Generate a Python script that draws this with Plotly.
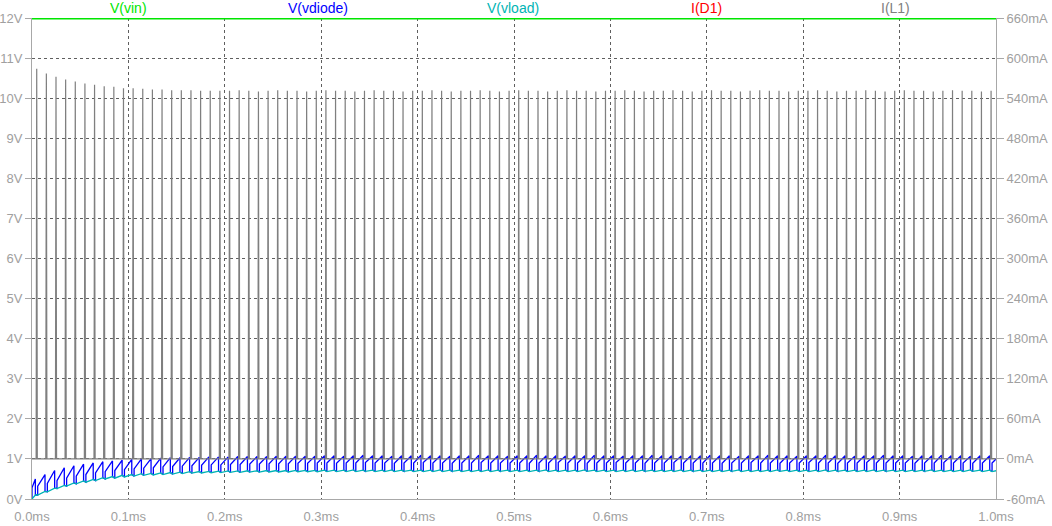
import plotly.graph_objects as go

# ---------------- data ----------------
# time base (ms)
PERIOD_MS = 0.010          # switching period
FIRST_DROP_MS = 0.0035     # first falling edge of V(vdiode)
FLAT_MS = 0.0024           # time V(vdiode) stays at V(vload) after a drop
SPIKE_DELAY_MS = 0.0008    # I(L1) spike start after the V(vdiode) drop
SPIKE_RISE_MS = 0.0006
SPIKE_FALL_MS = 0.0006

VIN_V = 12.0

# I(L1) peak per cycle (mA), 100 cycles
il_peak_mA = [
    584, 577, 572, 568, 565, 562, 560, 558, 557, 555,
    555, 554, 553, 553, 552, 552, 552, 551, 551, 551,
    551, 552, 551, 550, 551, 552, 551, 551, 550, 551,
    552, 551, 551, 550, 551, 552, 551, 551, 550, 551,
    551, 552, 551, 550, 551, 551, 552, 551, 550, 551,
    552, 551, 551, 550, 551, 552, 551, 551, 550, 551,
    551, 552, 551, 550, 551, 551, 552, 551, 550, 551,
    552, 551, 551, 550, 551, 552, 551, 551, 550, 551,
    551, 552, 551, 550, 551, 551, 552, 551, 550, 551,
    552, 551, 551, 550, 551, 552, 551, 551, 550, 551,
]

# V(vload) value at each V(vdiode) falling edge (V), 101 cycles
vload_top = [
    0.10, 0.19, 0.27, 0.34, 0.40, 0.45, 0.49, 0.53, 0.56, 0.59,
    0.61, 0.63, 0.64, 0.65, 0.66, 0.67, 0.68, 0.685, 0.69, 0.695,
    0.70, 0.70, 0.705, 0.705, 0.71, 0.71, 0.71, 0.715, 0.715, 0.715,
    0.72, 0.72, 0.72, 0.725, 0.72, 0.72, 0.72, 0.725, 0.72, 0.72,
    0.72, 0.72, 0.725, 0.72, 0.72, 0.72, 0.72, 0.725, 0.72, 0.72,
    0.72, 0.72, 0.72, 0.725, 0.72, 0.72, 0.72, 0.725, 0.72, 0.72,
    0.72, 0.72, 0.725, 0.72, 0.72, 0.72, 0.72, 0.725, 0.72, 0.72,
    0.72, 0.72, 0.72, 0.725, 0.72, 0.72, 0.72, 0.725, 0.72, 0.72,
    0.72, 0.72, 0.725, 0.72, 0.72, 0.72, 0.72, 0.725, 0.72, 0.72,
    0.72, 0.72, 0.72, 0.725, 0.72, 0.72, 0.72, 0.725, 0.72, 0.72,
    0.72,
]

# V(vload) lowest value in each cycle (V), cycles 1..100
vload_low = [
    0.10, 0.18, 0.26, 0.32, 0.38, 0.42, 0.46, 0.50, 0.52, 0.55,
    0.57, 0.59, 0.60, 0.61, 0.62, 0.635, 0.645, 0.65, 0.655, 0.66,
    0.665, 0.665, 0.67, 0.67, 0.675, 0.675, 0.675, 0.68, 0.68, 0.68,
    0.685, 0.685, 0.685, 0.685, 0.69, 0.685, 0.685, 0.685, 0.69, 0.685,
    0.685, 0.685, 0.685, 0.69, 0.685, 0.685, 0.685, 0.685, 0.69, 0.685,
    0.685, 0.685, 0.69, 0.685, 0.685, 0.685, 0.685, 0.69, 0.685, 0.685,
    0.685, 0.685, 0.685, 0.69, 0.685, 0.685, 0.685, 0.685, 0.69, 0.685,
    0.685, 0.685, 0.69, 0.685, 0.685, 0.685, 0.685, 0.69, 0.685, 0.685,
    0.685, 0.685, 0.685, 0.69, 0.685, 0.685, 0.685, 0.685, 0.69, 0.685,
    0.685, 0.685, 0.69, 0.685, 0.685, 0.685, 0.685, 0.69, 0.685, 0.685,
]

# V(vdiode) level right after its step up, per cycle (V), 101 cycles
vdiode_step = [
    0.28, 0.32, 0.39, 0.46, 0.52, 0.57, 0.61, 0.65, 0.68, 0.71,
    0.73, 0.75, 0.77, 0.78, 0.80, 0.81, 0.82, 0.83, 0.84, 0.85,
    0.85, 0.86, 0.86, 0.87, 0.87, 0.88, 0.88, 0.88, 0.89, 0.89,
    0.90, 0.90, 0.89, 0.90, 0.90, 0.91, 0.90, 0.90, 0.89, 0.90,
    0.90, 0.91, 0.90, 0.90, 0.89, 0.90, 0.90, 0.91, 0.90, 0.90,
    0.90, 0.90, 0.89, 0.90, 0.90, 0.91, 0.90, 0.90, 0.89, 0.90,
    0.90, 0.91, 0.90, 0.90, 0.89, 0.90, 0.90, 0.91, 0.90, 0.90,
    0.90, 0.90, 0.89, 0.90, 0.90, 0.91, 0.90, 0.90, 0.89, 0.90,
    0.90, 0.91, 0.90, 0.90, 0.89, 0.90, 0.90, 0.91, 0.90, 0.90,
    0.90, 0.90, 0.89, 0.90, 0.90, 0.91, 0.90, 0.90, 0.89, 0.90,
    0.90,
]

# V(vdiode) peak per cycle, just before its falling edge (V), 101 cycles
vdiode_peak = [
    0.50, 0.61, 0.71, 0.78, 0.83, 0.87, 0.90, 0.93, 0.95, 0.97,
    0.99, 1.00, 1.01, 1.02, 1.03, 1.03, 1.04, 1.04, 1.05, 1.05,
    1.05, 1.06, 1.06, 1.06, 1.06, 1.07, 1.07, 1.07, 1.07, 1.07,
    1.08, 1.08, 1.07, 1.08, 1.09, 1.08, 1.08, 1.07, 1.08, 1.08,
    1.09, 1.08, 1.08, 1.07, 1.08, 1.08, 1.09, 1.08, 1.08, 1.07,
    1.08, 1.08, 1.09, 1.08, 1.08, 1.07, 1.08, 1.08, 1.09, 1.08,
    1.08, 1.07, 1.08, 1.08, 1.09, 1.08, 1.08, 1.07, 1.08, 1.08,
    1.09, 1.08, 1.08, 1.07, 1.08, 1.08, 1.09, 1.08, 1.08, 1.07,
    1.08, 1.08, 1.09, 1.08, 1.08, 1.07, 1.08, 1.08, 1.09, 1.08,
    1.08, 1.07, 1.08, 1.08, 1.09, 1.08, 1.08, 1.07, 1.08, 1.08,
    1.08,
]

trace_names = ["V(vin)", "V(vdiode)", "V(vload)", "I(D1)", "I(L1)"]
trace_colors = ["#00e600", "#0000ff", "#00b4b4", "#ff0000", "#7f7f7f"]
label_pos_ms = [0.1, 0.297, 0.499, 0.7, 0.896]

x_ticks = [i / 10 for i in range(11)]
x_ticktext = [f"{v:.1f}ms" for v in x_ticks]
yv_ticks = list(range(0, 13))
yv_ticktext = [f"{v}V" for v in yv_ticks]
ya_ticks = list(range(-60, 661, 60))
ya_ticktext = [f"{v}mA" for v in ya_ticks]

# ---------------- build waveforms ----------------
ncyc = len(vdiode_peak)
drops = [FIRST_DROP_MS + k * PERIOD_MS for k in range(ncyc)]

# V(vdiode) and V(vload)
bx, by = [0.0, 0.0, drops[0]], [0.0, vdiode_step[0], vdiode_peak[0]]
cx, cy = [0.0, drops[0]], [0.0, vload_top[0]]
for k in range(1, ncyc):
    d0 = drops[k - 1]
    d1 = drops[k]
    bx += [d0, d0 + FLAT_MS, d0 + FLAT_MS, d1]
    by += [vload_top[k - 1], vload_low[k - 1], vdiode_step[k], vdiode_peak[k]]
    cx += [d0 + FLAT_MS, d1]
    cy += [vload_low[k - 1], vload_top[k]]

# I(L1)
lx, ly = [0.0], [0.0]
for k, pk in enumerate(il_peak_mA):
    s = drops[k] + SPIKE_DELAY_MS
    lx += [s, s + SPIKE_RISE_MS, s + SPIKE_RISE_MS + SPIKE_FALL_MS]
    ly += [0.0, pk, 0.0]
lx.append(1.0)
ly.append(0.0)

fig = go.Figure()
fig.add_trace(go.Scatter(x=[0.0, 1.0], y=[VIN_V, VIN_V], mode="lines",
                         line=dict(color=trace_colors[0], width=3), yaxis="y"))
fig.add_trace(go.Scatter(x=bx, y=by, mode="lines",
                         line=dict(color=trace_colors[1], width=1.3), yaxis="y"))
fig.add_trace(go.Scatter(x=cx, y=cy, mode="lines",
                         line=dict(color=trace_colors[2], width=1.3), yaxis="y"))
fig.add_trace(go.Scatter(x=lx, y=ly, mode="lines",
                         line=dict(color=trace_colors[4], width=1.2), yaxis="y2"))

axis_col = "#a8a8a8"
grid_col = "#5f5f5f"
font_fam = "Liberation Sans, Arial, sans-serif"

fig.update_layout(
    width=1052, height=526,
    margin=dict(l=32, r=56, t=18, b=27, autoexpand=False),
    paper_bgcolor="white", plot_bgcolor="white",
    showlegend=False,
    font=dict(family=font_fam, size=13, color="#a0a0a0"),
    xaxis=dict(range=[0, 1], tickvals=x_ticks, ticktext=x_ticktext,
               showgrid=True, gridcolor=grid_col, griddash="3px,3px", gridwidth=1,
               showline=True, linecolor=axis_col, linewidth=1,
               ticks="outside", ticklen=5, tickcolor="rgba(0,0,0,0)",
               zeroline=False, automargin=False),
    yaxis=dict(range=[0, 12], tickvals=yv_ticks, ticktext=yv_ticktext,
               showgrid=True, gridcolor=grid_col, griddash="3px,3px", gridwidth=1,
               showline=True, linecolor=axis_col, linewidth=1,
               ticks="outside", ticklen=6, tickcolor=axis_col,
               zeroline=False, automargin=False),
    yaxis2=dict(range=[-60, 660], tickvals=ya_ticks, ticktext=ya_ticktext,
                overlaying="y", side="right", showgrid=False,
                showline=True, linecolor=axis_col, linewidth=1,
                ticks="outside", ticklen=7, tickcolor=axis_col,
                zeroline=False, automargin=False),
)

for name, col, xp in zip(trace_names, trace_colors, label_pos_ms):
    fig.add_annotation(x=xp, xref="x", y=1, yref="paper", yanchor="middle",
                       yshift=10, text=name, showarrow=False,
                       font=dict(family=font_fam, size=14, color=col))

fig.write_html(
    "out.html",
    config={"displayModeBar": False},
    post_script="document.body.style.margin='0';document.body.style.overflow='hidden';",
)
